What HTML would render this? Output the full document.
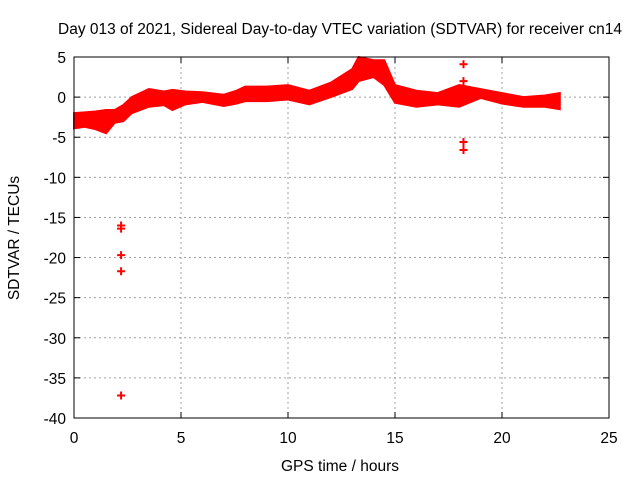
<!DOCTYPE html>
<html><head><meta charset="utf-8"><style>
body{margin:0;background:#fff}
svg{display:block;font-family:"Liberation Sans",sans-serif;font-size:15.5px}
</style></head><body>
<svg id="chart" width="640" height="480" xmlns="http://www.w3.org/2000/svg">
<text x="340" y="34" text-anchor="middle">Day 013 of 2021, Sidereal Day-to-day VTEC variation (SDTVAR) for receiver cn14</text>
<text x="340" y="471" text-anchor="middle">GPS time / hours</text>
<text transform="translate(19,238) rotate(-90)" text-anchor="middle">SDTVAR / TECUs</text>
<g id="grid"></g><g id="marks"></g><g id="axes"></g>
</svg>
<script>
const xTicks=[0,5,10,15,20,25];
const yTicks=[5,0,-5,-10,-15,-20,-25,-30,-35,-40];
const bandHours=[0,0.5,1,1.5,1.9,2.3,2.7,3.5,4.2,4.6,5.2,6,7,7.6,8,9,10,11,12,13,13.3,14,14.5,15,16,17,18,19,20,21,22,22.7];
const bandUpper=[-2.0,-1.9,-1.8,-1.6,-1.6,-1.0,0.0,1.0,0.7,0.9,0.7,0.6,0.3,0.8,1.3,1.3,1.5,0.8,1.8,3.5,5.0,4.6,4.6,1.5,0.8,0.5,1.5,1.0,0.5,0.0,0.2,0.5];
const bandLower=[-3.9,-3.7,-4.0,-4.5,-3.2,-3.0,-2.0,-1.2,-1.0,-1.6,-0.9,-0.6,-1.1,-0.8,-0.5,-0.5,-0.3,-0.9,0.0,1.0,2.0,2.5,1.5,-0.7,-1.2,-0.9,-1.2,-0.1,-0.8,-1.2,-1.2,-1.5];
const outlierHours=[2.2,2.2,2.2,2.2,2.2,18.2,18.2,18.2,18.2];
const outlierValues=[-16.0,-16.4,-19.7,-21.7,-37.2,4.1,2.0,-5.6,-6.6];
const X0=74,X1=609,Y0=57,Y1=418;
const xs=v=>X0+(v-0)/(25-0)*(X1-X0);
const ys=v=>Y0+(5-v)/(5-(-40))*(Y1-Y0);
const NS="http://www.w3.org/2000/svg";
function mk(t,a,p){const e=document.createElementNS(NS,t);for(const k in a)e.setAttribute(k,a[k]);p.appendChild(e);return e;}
const grid=document.getElementById('grid'),axes=document.getElementById('axes'),marks=document.getElementById('marks');
xTicks.forEach(t=>{
  const x=xs(t);
  if(t>0&&t<25){const g=mk('line',{x1:x,x2:x,y1:Y0,y2:Y1,stroke:'#a0a0a0','stroke-dasharray':'2,3'},grid);
  
  }
  mk('line',{x1:x,x2:x,y1:Y1,y2:Y1-6,stroke:'#000'},axes);
  mk('line',{x1:x,x2:x,y1:Y0,y2:Y0+6,stroke:'#000'},axes);
  const l=mk('text',{x:x,y:Y1+25,'text-anchor':'middle'},axes);l.textContent=t;
  
  
});
yTicks.forEach(t=>{
  const y=ys(t);
  if(t<5&&t>-40){const g=mk('line',{x1:X0,x2:X1,y1:y,y2:y,stroke:'#a0a0a0','stroke-dasharray':'2,3'},grid);
  
  }
  mk('line',{x1:X0,x2:X0+6,y1:y,y2:y,stroke:'#000'},axes);
  mk('line',{x1:X1,x2:X1-6,y1:y,y2:y,stroke:'#000'},axes);
  const l=mk('text',{x:X0-8,y:y+6,'text-anchor':'end'},axes);l.textContent=t;
  
  
});
const frame=mk('rect',{x:X0,y:Y0,width:X1-X0,height:Y1-Y0,fill:'none',stroke:'#000'},axes);


let pts=bandHours.map((h,i)=>xs(h)+','+ys(bandUpper[i]));
for(let i=bandHours.length-1;i>=0;i--)pts.push(xs(bandHours[i])+','+ys(bandLower[i]));
const band=mk('polygon',{points:pts.join(' '),fill:'#ff0000',stroke:'#ff0000','stroke-width':2},marks);


outlierHours.forEach((h,i)=>{
  const x=xs(h),y=ys(outlierValues[i]);
  const p=mk('path',{d:`M${x-4},${y}H${x+4}M${x},${y-4}V${y+4}`,stroke:'#ff0000','stroke-width':2},marks);
  
  
});
</script>
</body></html>
